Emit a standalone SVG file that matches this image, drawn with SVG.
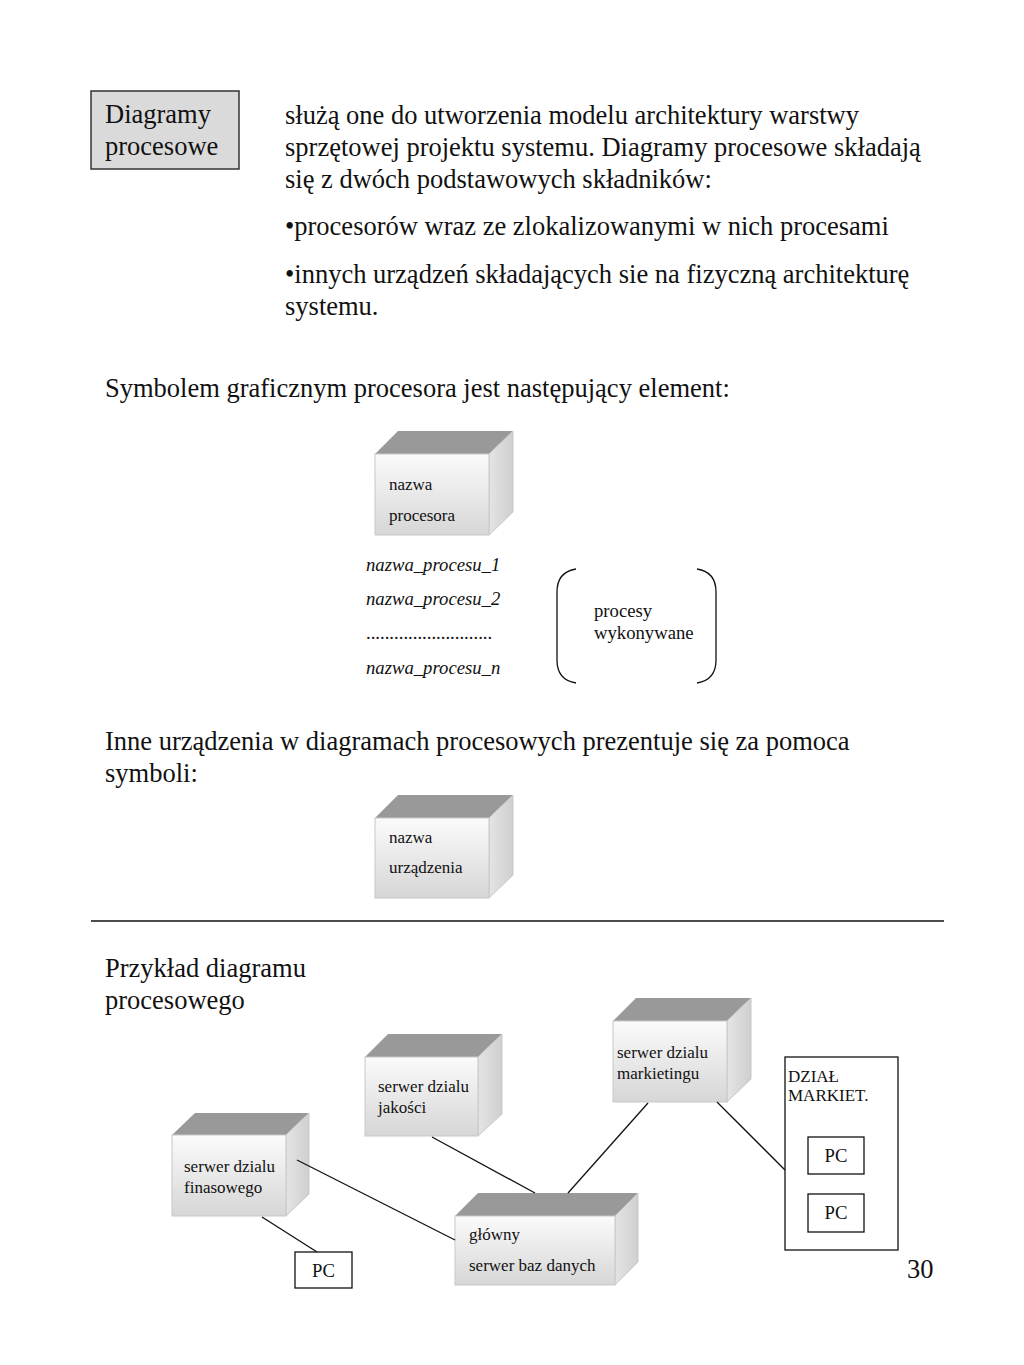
<svg xmlns="http://www.w3.org/2000/svg" width="1024" height="1365" viewBox="0 0 1024 1365">
<defs>
<linearGradient id="front" x1="0" y1="0" x2="0" y2="1">
<stop offset="0" stop-color="#fbfbfb"/><stop offset="1" stop-color="#d6d6d6"/>
</linearGradient>
<linearGradient id="side" x1="0" y1="0" x2="1" y2="0">
<stop offset="0" stop-color="#e4e4e4"/><stop offset="1" stop-color="#cfcfcf"/>
</linearGradient>
</defs>
<style>
.t{font-family:"Liberation Serif","Times New Roman",serif;fill:#111}
.big{font-size:26.5px}
.sm{font-size:17px}
.md{font-size:18.7px}
.it{font-style:italic}
.top{fill:#999999}
.fr{fill:url(#front);stroke:#c8c8c8;stroke-width:1}
.sd{fill:url(#side);stroke:#c8c8c8;stroke-width:1}
.box{fill:#ffffff;stroke:#111;stroke-width:1.3}
.ln{stroke:#111;stroke-width:1.3;fill:none}
</style>
<rect width="1024" height="1365" fill="#ffffff"/>

<g id="title-box">
<rect x="91" y="91" width="148" height="78" fill="#dadada" stroke="#333" stroke-width="1.5"/>
<text class="t big" x="105" y="123">Diagramy</text>
<text class="t big" x="105" y="155">procesowe</text>
</g>

<g id="intro-text">
<text class="t big" x="285" y="124">służą one do utworzenia modelu architektury warstwy</text>
<text class="t big" x="285" y="156">sprzętowej projektu systemu. Diagramy procesowe składają</text>
<text class="t big" x="285" y="188">się z dwóch podstawowych składników:</text>
<text class="t big" x="285" y="235">•procesorów wraz ze zlokalizowanymi w nich procesami</text>
<text class="t big" x="285" y="283">•innych urządzeń składających sie na fizyczną architekturę</text>
<text class="t big" x="285" y="315">systemu.</text>
<text class="t big" x="105" y="397">Symbolem graficznym procesora jest następujący element:</text>
<text class="t big" x="105" y="750">Inne urządzenia w diagramach procesowych prezentuje się za pomoca</text>
<text class="t big" x="105" y="782">symboli:</text>
<text class="t big" x="105" y="977">Przykład diagramu</text>
<text class="t big" x="105" y="1009">procesowego</text>
<text class="t big" x="907" y="1278">30</text>
</g>

<g id="cube-procesor">
<polygon class="top" points="375,454 398,431 513,431 489,454"/>
<polygon class="sd" points="489,454 513,431 513,512 489,535"/>
<rect class="fr" x="375" y="454" width="114" height="81"/>
<text class="t sm" x="389" y="490">nazwa</text>
<text class="t sm" x="389" y="521">procesora</text>
</g>

<g id="process-list">
<text class="t md it" x="366" y="571">nazwa_procesu_1</text>
<text class="t md it" x="366" y="605">nazwa_procesu_2</text>
<text class="t md" x="366" y="639">...........................</text>
<text class="t md it" x="366" y="674">nazwa_procesu_n</text>
</g>

<g id="bracket">
<path class="ln" d="M576,569 Q557,572 557,592 L557,660 Q557,680 576,683"/>
<path class="ln" d="M697,569 Q716,572 716,592 L716,660 Q716,680 697,683"/>
<text class="t md" x="594" y="617">procesy</text>
<text class="t md" x="594" y="639">wykonywane</text>
</g>

<g id="cube-urzadzenie">
<polygon class="top" points="375,818 398,795 513,795 489,818"/>
<polygon class="sd" points="489,818 513,795 513,875 489,898"/>
<rect class="fr" x="375" y="818" width="114" height="80"/>
<text class="t sm" x="389" y="843">nazwa</text>
<text class="t sm" x="389" y="873">urządzenia</text>
</g>

<g id="separator">
<line x1="91" y1="921" x2="944" y2="921" stroke="#111" stroke-width="1.5"/>
</g>

<g id="node-finasowy">
<polygon class="top" points="172,1135 195,1113 309,1113 286,1135"/>
<polygon class="sd" points="286,1135 309,1113 309,1194 286,1216"/>
<rect class="fr" x="172" y="1135" width="114" height="81"/>
<text class="t sm" x="184" y="1172">serwer dzialu</text>
<text class="t sm" x="184" y="1193">finasowego</text>
</g>

<g id="node-jakosci">
<polygon class="top" points="365,1057 388,1034 502,1034 478,1057"/>
<polygon class="sd" points="478,1057 502,1034 502,1114 478,1136"/>
<rect class="fr" x="365" y="1057" width="113" height="79"/>
<text class="t sm" x="378" y="1092">serwer dzialu</text>
<text class="t sm" x="378" y="1113">jakości</text>
</g>

<g id="node-markietingu">
<polygon class="top" points="613,1021 636,998 751,998 727,1021"/>
<polygon class="sd" points="727,1021 751,998 751,1079 727,1102"/>
<rect class="fr" x="613" y="1021" width="114" height="81"/>
<text class="t sm" x="617" y="1058">serwer dzialu</text>
<text class="t sm" x="617" y="1079">markietingu</text>
</g>

<g id="node-glowny">
<polygon class="top" points="455,1216 478,1193 638,1193 615,1216"/>
<polygon class="sd" points="615,1216 638,1193 638,1262 615,1285"/>
<rect class="fr" x="455" y="1216" width="160" height="69"/>
<text class="t sm" x="469" y="1240">główny</text>
<text class="t sm" x="469" y="1271">serwer baz danych</text>
</g>

<g id="node-pc-fin">
<rect class="box" x="295" y="1252" width="57" height="36"/>
<text class="t md" x="323.5" y="1277" text-anchor="middle">PC</text>
</g>

<g id="node-dzial">
<rect class="box" x="785" y="1057" width="113" height="193"/>
<text class="t sm" x="788" y="1082">DZIAŁ</text>
<text class="t sm" x="788" y="1101">MARKIET.</text>
</g>
<g id="node-pc-m1">
<rect class="box" x="808" y="1137" width="56" height="37"/>
<text class="t md" x="836" y="1162" text-anchor="middle">PC</text>
</g>
<g id="node-pc-m2">
<rect class="box" x="808" y="1194" width="56" height="38"/>
<text class="t md" x="836" y="1219" text-anchor="middle">PC</text>
</g>

<g id="connectors">
<line class="ln" x1="262" y1="1217" x2="317" y2="1252"/>
<line class="ln" x1="297" y1="1160" x2="455" y2="1240"/>
<line class="ln" x1="432" y1="1137" x2="535" y2="1193"/>
<line class="ln" x1="648" y1="1103" x2="568" y2="1193"/>
<line class="ln" x1="717" y1="1102" x2="785" y2="1170"/>
</g>
</svg>
